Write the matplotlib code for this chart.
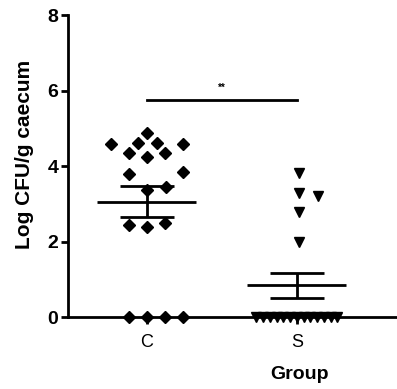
import numpy as np
import matplotlib
matplotlib.use("Agg")
import matplotlib.pyplot as plt

# Group values (log CFU/g caecum)
groups = ["C", "S"]
c_values = [4.88, 4.60, 4.62, 4.58, 4.58, 4.34, 4.25, 4.35, 3.80, 3.85,
            3.36, 3.44, 2.44, 2.39, 2.48, 0.0, 0.0, 0.0, 0.0]
s_values = [3.82, 3.29, 3.20, 2.79, 2.00] + [0.0] * 13

# horizontal scatter offsets (layout only)
c_offsets = [0.0, -0.06, 0.065, -0.24, 0.24, -0.12, 0.0, 0.12, -0.12, 0.24,
             0.0, 0.13, -0.12, 0.0, 0.12, -0.12, 0.0, 0.12, 0.24]
s_offsets = [0.015, 0.015, 0.14, 0.015, 0.015,
             -0.27, -0.225, -0.18, -0.135, -0.09, -0.045, 0.0,
             0.045, 0.09, 0.135, 0.18, 0.225, 0.27]

sig_label = "**"
sig_y = 5.75

plt.rcParams["font.family"] = ["Liberation Sans", "DejaVu Sans"]

fig = plt.figure(figsize=(3.97, 3.89), dpi=100)
ax = fig.add_axes([0.171, 0.185, 1.169, 0.776])

positions = [1, 2]
markers = ["D", "v"]
msizes = [6.5, 7.5]
for pos, vals, offs, mk, ms in zip(positions, [c_values, s_values],
                                   [c_offsets, s_offsets], markers, msizes):
    vals = np.array(vals)
    ax.plot(pos + np.array(offs), vals, linestyle="none", marker=mk,
            markersize=ms, color="black", clip_on=False, zorder=3)
    mean = vals.mean()
    sem = vals.std(ddof=1) / np.sqrt(len(vals))
    ax.hlines(mean, pos - 0.33, pos + 0.33, color="black", lw=2, zorder=4)
    ax.hlines([mean - sem, mean + sem], pos - 0.18, pos + 0.18,
              color="black", lw=2, zorder=4)
    ax.vlines(pos, mean - sem, mean + sem, color="black", lw=2, zorder=4)

# significance bar
ax.plot([positions[0], positions[1]], [sig_y, sig_y], color="black", lw=2)
ax.text(1.5, sig_y + 0.2, sig_label, ha="center", va="bottom",
        fontsize=7, fontweight="bold")

ax.set_xlim(0.473, 3.567)
ax.set_ylim(0, 8)
ax.set_yticks([0, 2, 4, 6, 8])
ax.set_xticks(positions)
ax.set_xticklabels(groups, fontsize=13)
for lab in ax.get_yticklabels():
    lab.set_fontweight("bold")
    lab.set_fontsize(14)
ax.tick_params(axis="y", length=5, width=2, pad=2)
ax.tick_params(axis="x", length=5, width=2, pad=7)

ax.spines["top"].set_visible(False)
ax.spines["right"].set_visible(False)
ax.spines["left"].set_linewidth(2)
ax.spines["bottom"].set_linewidth(2)

ax.set_ylabel("Log CFU/g caecum", fontsize=15, fontweight="bold")
ax.yaxis.set_label_coords(-0.074, 0.537)
ax.set_xlabel("Group", fontsize=14, fontweight="bold", labelpad=11)

fig.savefig("out.png", dpi=100)
